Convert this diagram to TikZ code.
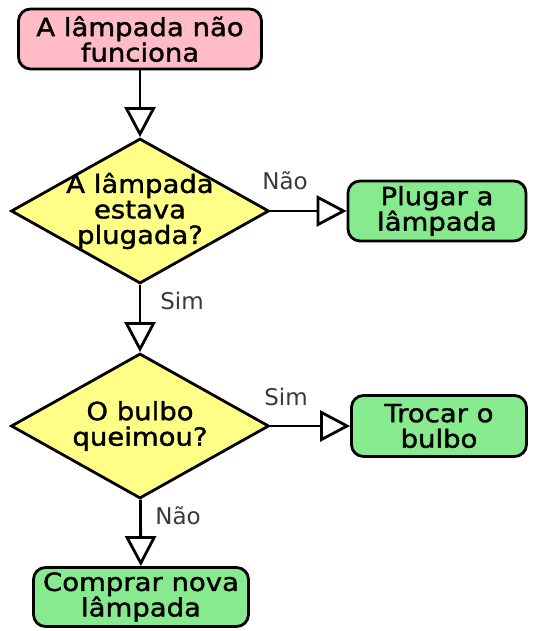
\documentclass[tikz,border=0pt]{standalone}
\usepackage{fontspec}
\setmainfont{DejaVu Sans}[FakeStretch=1.1, FakeBold=1.5]
\newfontfamily\edgefont{DejaVu Sans}
\usetikzlibrary{shapes.geometric}
\usetikzlibrary{arrows.meta}

\definecolor{startpink}{HTML}{FFBCC6}
\definecolor{askyellow}{HTML}{FFFF88}
\definecolor{dogreen}{HTML}{88EA8F}
\definecolor{edgegray}{HTML}{3A3A3A}

\tikzset{
  boxtext/.style={align=center, font=\fontsize{25}{25.5}\selectfont},
  startbox/.style={boxtext, draw, fill=startpink, rounded corners=12pt, line width=2.8pt, inner sep=0pt},
  actionbox/.style={boxtext, draw, fill=dogreen, rounded corners=12pt, line width=2.8pt, inner sep=0pt},
  decision/.style={diamond, draw, fill=askyellow, line width=2.8pt, inner sep=0pt, minimum width=258pt, minimum height=145pt},
  edgelabel/.style={text=edgegray, font=\edgefont\fontsize{23}{25}\selectfont},
  flow/.style={line width=2.8pt, -{Triangle[open, length=30pt, width=31pt, line width=2.8pt]}}
}

\begin{document}
\begin{tikzpicture}[x=1pt, y=-1pt]
                % Fix the size of the page
                \useasboundingbox (0,0) rectangle (533,631);

                % Boxes and questions
                \node[startbox, minimum width=243pt, minimum height=60pt] (broken) at (140,39) {A lâmpada não\\funciona};
                \node[decision] (plugged) at (140,211) {};
                \node[boxtext] (pluggedtext) at (plugged) {A lâmpada\\estava\\plugada?};
                \node[actionbox, minimum width=178pt, minimum height=60pt] (plugin) at (437,211) {Plugar a\\lâmpada};
                \node[decision] (burned) at (140,426) {};
                \node[boxtext] (burnedtext) at (burned) {O bulbo\\queimou?};
                \node[actionbox, minimum width=175pt, minimum height=61pt] (replace) at (439,426) {Trocar o\\bulbo};
                \node[actionbox, minimum width=215pt, minimum height=59pt] (buy) at (141,597) {Comprar nova\\lâmpada};

                % Connectors
                \draw[flow] (broken) -- (plugged);
                \draw[flow] (plugged) -- (plugin);
                \draw[flow] (plugged) -- (burned);
                \draw[flow] (burned) -- (replace);
                \draw[flow] (burned) -- (buy);

                % Answers
                \node[edgelabel] (nao1) at (285,181) {Não};
                \node[edgelabel] (sim1) at (182,301) {Sim};
                \node[edgelabel] (sim2) at (286,397) {Sim};
                \node[edgelabel] (nao2) at (178,516) {Não};
\end{tikzpicture}
\end{document}
